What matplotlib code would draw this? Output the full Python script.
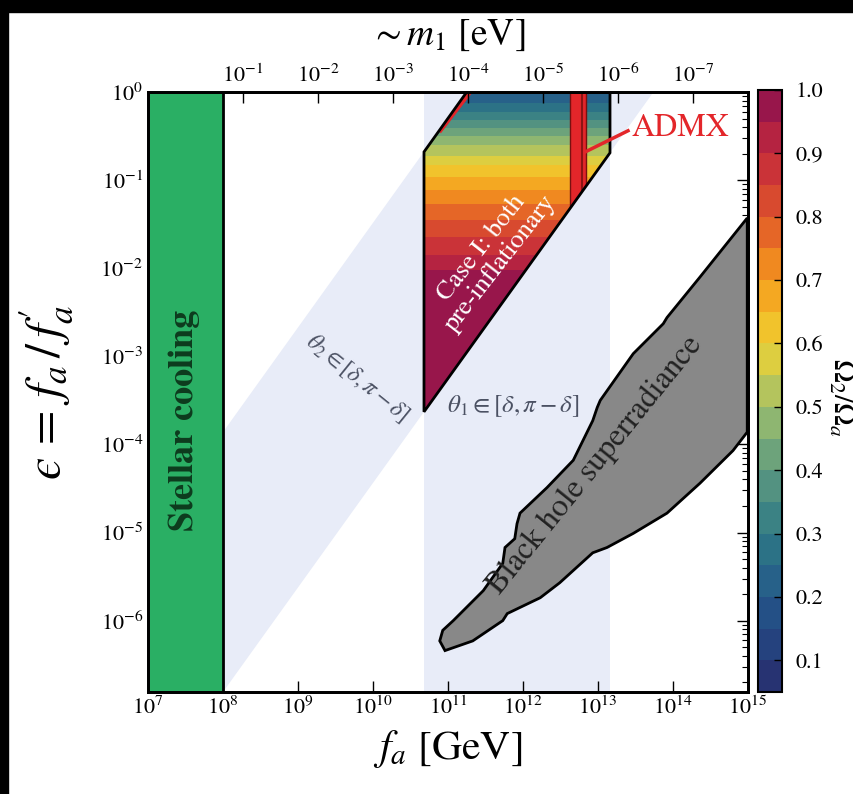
import numpy as np
import matplotlib
matplotlib.use('Agg')
import matplotlib.pyplot as plt
from matplotlib.patches import Polygon, Rectangle
from matplotlib.colors import LinearSegmentedColormap, ListedColormap, BoundaryNorm
from matplotlib.cm import ScalarMappable

plt.rcParams['font.family'] = 'serif'
plt.rcParams['font.serif'] = ['STIXGeneral', 'DejaVu Serif']
plt.rcParams['mathtext.fontset'] = 'stix'

# axis ranges
fa_lim = [1e7, 1e15]
eps_lim = [10**-6.81, 1.0]
fa_ticks = [10.0**k for k in range(7, 16)]
m1_ticks = [10.0**-k for k in range(1, 8)]
m1_times_fa = 1.85e7   # ~ m1 [eV] * f_a [GeV]

# regions (f_a in GeV, eps)
stellar_fa_max = 1e8
band_fa = [10**10.68, 10**13.16]
diag_fa = [10**8.0, 10**11.25, 10**13.74, 10**8.0]
diag_eps = [10**-3.86, 1.0, 1.0, 10**-6.81]
case1_fa = [10**10.68, 10**11.25, 10**13.16, 10**13.16, 10**10.68]
case1_eps = [10**-0.68, 1.0, 1.0, 10**-0.69, 10**-3.63]

# Omega_2/Omega_a bands inside case I (eps edges, top to bottom)
ratio_eps_edges = [1.0, 0.75, 0.59, 0.48, 0.39, 0.32, 0.25, 0.19, 0.148,
                   0.108, 0.077, 0.053, 0.035, 0.0225, 0.014, 0.0095, 1e-7]
ratio_vals = [0.225, 0.275, 0.325, 0.375, 0.425, 0.475, 0.525, 0.575,
              0.625, 0.675, 0.725, 0.775, 0.825, 0.875, 0.925, 0.975]

admx_fa = [10**12.63, 10**12.84]
admx_line_fa = 10**12.79

bh_log_fa = [14.99, 14.36, 13.92, 13.87, 13.47, 13.03, 12.99, 12.93, 12.67,
             12.32, 11.96, 11.92, 11.89, 11.76, 11.73, 11.47, 11.07, 10.93,
             10.89, 10.96, 11.33, 11.73, 11.79, 12.23, 12.49, 12.93, 13.12,
             13.47, 13.92, 14.36, 14.80, 14.99]
bh_log_eps = [-1.43, -2.10, -2.56, -2.63, -2.97, -3.50, -3.58, -3.73, -4.18,
              -4.49, -4.78, -4.90, -5.07, -5.17, -5.35, -5.66, -6.00, -6.11,
              -6.23, -6.34, -6.23, -6.00, -5.92, -5.74, -5.57, -5.23, -5.17,
              -5.01, -4.78, -4.44, -4.07, -3.86]

cb_colors = ['#2d1e5c', '#253a7a', '#24598a', '#2f7a85', '#5e9a80', '#9fbf6c',
             '#f0d232', '#f59a1d', '#e0562a', '#c42a3c', '#8b1050']
cb_ticks = [0.1, 0.2, 0.3, 0.4, 0.5, 0.6, 0.7, 0.8, 0.9, 1.0]
base = LinearSegmentedColormap.from_list('omega', cb_colors)
levels = np.linspace(0.05, 1.0, 20)
cmap = ListedColormap([base(v) for v in (levels[:-1] + 0.025)])
norm = BoundaryNorm(levels, cmap.N)

light = '#e8ecf8'
green = '#2aaf64'
red = '#e3262a'

fig = plt.figure(figsize=(8.54, 7.94), dpi=100)
ax = fig.add_axes([148/854, 102/794, 600/854, 600/794])
cax = fig.add_axes([758/854, 102/794, 24/854, 602/794])

ax.set_xscale('log')
ax.set_yscale('log')
ax.set_xlim(fa_lim)
ax.set_ylim(eps_lim)

ax.axvspan(band_fa[0], band_fa[1], color=light, lw=0, zorder=1)
ax.fill(diag_fa, diag_eps, color=light, lw=0, zorder=1)

ax.axvspan(fa_lim[0], stellar_fa_max, color=green, lw=0, zorder=2)
ax.axvline(stellar_fa_max, color='k', lw=2, zorder=4)

ax.fill(10**np.array(bh_log_fa), 10**np.array(bh_log_eps), facecolor='#888888',
        edgecolor='k', lw=2, zorder=3)

case1 = Polygon(np.column_stack([case1_fa, case1_eps]), closed=True,
                facecolor='none', edgecolor='k', lw=2, zorder=6)
ax.add_patch(case1)
for i, v in enumerate(ratio_vals):
    sp = ax.axhspan(ratio_eps_edges[i + 1], ratio_eps_edges[i],
                    color=cmap(norm(v)), lw=0, zorder=3)
    sp.set_clip_path(case1)

adm = ax.axvspan(admx_fa[0], admx_fa[1], facecolor=red, edgecolor='#7a1010',
                 lw=1, zorder=5)
adm.set_clip_path(case1)
ln = ax.axvline(admx_line_fa, color='#8b1414', lw=1.5, zorder=5)
ln.set_clip_path(case1)
rl, = ax.plot([10**10.90, 10**11.29], [10**-0.43, 1.0], color=red, lw=3.5, zorder=5)
rl.set_clip_path(case1)

ax.plot([10**12.83, 10**13.40], [10**-0.68, 10**-0.44], color=red, lw=2.5,
        zorder=7, clip_on=False)
ax.text(10**13.45, 10**-0.41, 'ADMX', color=red, fontsize=23, ha='left',
        va='center', zorder=8)

ax.text(10**7.49, 10**-3.73, 'Stellar cooling', rotation=90, ha='center',
        va='center', fontsize=26, fontweight='bold', color='#0d3b1e', zorder=8)
ax.text(10**11.57, 10**-1.86, 'Case I: both\npre-inflationary', rotation=52,
        ha='center', va='center', fontsize=19, color='white', linespacing=1.0,
        zorder=8)
ax.text(10**12.96, 10**-4.24, 'Black hole superradiance', rotation=51,
        ha='center', va='center', fontsize=23, color='#222222', zorder=8)
ax.text(10**9.79, 10**-3.24, r'$\theta_2 \in [\delta, \pi - \delta]$',
        rotation=-39, ha='center', va='center', fontsize=17,
        color='#4b5163', zorder=8)
ax.text(10**11.87, 10**-3.56, r'$\theta_1 \in [\delta, \pi - \delta]$',
        ha='center', va='center', fontsize=18, color='#4b5163', zorder=8)

ax.set_xticks(fa_ticks)
ax.xaxis.set_minor_locator(matplotlib.ticker.NullLocator())
ax.tick_params(which='both', direction='in', top=False, right=True,
               labelsize=16)
ax.tick_params(which='major', length=8, width=1)
ax.tick_params(which='minor', length=4, width=0.8)
for s in ax.spines.values():
    s.set_linewidth(2)
    s.set_zorder(10)
ax.set_xlabel(r'$f_a$ [GeV]', fontsize=30, labelpad=6)
ax.set_ylabel("$\u03f5\\,=\\,f_a\\,/\\,f^{\\prime}_a$", fontsize=36, labelpad=18)

ax2 = ax.twiny()
ax2.set_xscale('log')
ax2.set_xlim(m1_times_fa / fa_lim[0], m1_times_fa / fa_lim[1])
ax2.set_xticks(m1_ticks)
ax2.xaxis.set_minor_locator(matplotlib.ticker.NullLocator())
ax2.tick_params(direction='in', length=8, width=1, labelsize=16)
ax2.set_xlabel(r'$\sim m_1$ [eV]', fontsize=27, labelpad=14)
for s in ax2.spines.values():
    s.set_linewidth(2)

sm = ScalarMappable(norm=norm, cmap=cmap)
cbar = fig.colorbar(sm, cax=cax, ticks=cb_ticks)
cbar.minorticks_off()
cbar.ax.set_yticklabels(['%.1f' % t for t in cb_ticks])
cbar.ax.tick_params(direction='in', length=6, width=1, labelsize=16, pad=10)
cbar.outline.set_linewidth(1.5)
fig.text(841/854, 1 - 398/794, r'$\Omega_2/\Omega_a$', rotation=270,
         ha='center', va='center', fontsize=22)

# dark border of the original screenshot
fig.patches.append(Rectangle((0, 1 - 12/794), 1, 12/794, transform=fig.transFigure,
                             color='k', zorder=20))
fig.patches.append(Rectangle((0, 0), 8/854, 1, transform=fig.transFigure,
                             color='k', zorder=20))

fig.savefig('out.png', dpi=100)
